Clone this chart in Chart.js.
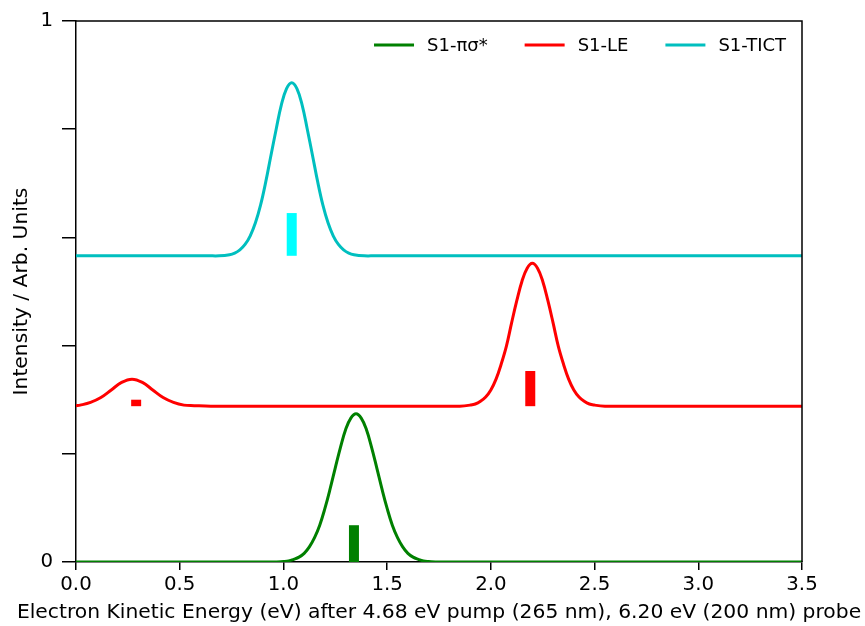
<!DOCTYPE html>
<html>
<head>
<meta charset="utf-8">
<script src="https://cdn.jsdelivr.net/npm/chart.js@4/dist/chart.umd.min.js"></script>
<style>
  html, body { margin: 0; padding: 0; background: #fff; }
  #wrap { width: 865px; height: 626px; }
</style>
</head>
<body>
<div id="wrap"><canvas id="c" width="865" height="626"></canvas></div>
<script>
// Spectra (eKE in eV, intensity in arb. units)
const greenX = [0, 0.95, 1.0, 1.025, 1.05, 1.075, 1.1, 1.125, 1.15, 1.175, 1.2, 1.225, 1.25, 1.275, 1.3, 1.325, 1.35,
  1.375, 1.4, 1.425, 1.45, 1.475, 1.5, 1.525, 1.55, 1.575, 1.6, 1.625, 1.65, 1.675, 1.7, 1.75, 3.5];
const greenY = [0, 0, 0.001, 0.002, 0.005, 0.009, 0.016, 0.028, 0.045, 0.068, 0.099, 0.135, 0.174, 0.212, 0.245, 0.266, 0.274,
  0.266, 0.245, 0.212, 0.174, 0.135, 0.099, 0.068, 0.045, 0.028, 0.016, 0.009, 0.005, 0.002, 0.001, 0, 0];

const redX = [0, 0.02, 0.07, 0.12, 0.17, 0.22, 0.27, 0.32, 0.37, 0.42, 0.47, 0.52, 0.57, 0.65,
  1.8, 1.85, 1.9, 1.925, 1.95, 1.975, 2.0, 2.025, 2.05, 2.075, 2.1, 2.125, 2.15, 2.175, 2.2,
  2.225, 2.25, 2.275, 2.3, 2.325, 2.35, 2.375, 2.4, 2.425, 2.45, 2.475, 2.5, 2.55, 2.6, 3.5];
const redY = [0.289, 0.290, 0.295, 0.304, 0.318, 0.332, 0.338, 0.332, 0.318, 0.304, 0.295, 0.290, 0.289, 0.288,
  0.288, 0.288, 0.290, 0.292, 0.297, 0.305, 0.318, 0.338, 0.366, 0.399, 0.442, 0.483, 0.519, 0.543, 0.552,
  0.543, 0.519, 0.483, 0.442, 0.399, 0.366, 0.338, 0.318, 0.305, 0.297, 0.292, 0.290, 0.288, 0.288, 0.288];

const cyanX = [0, 0.64, 0.69, 0.74, 0.765, 0.79, 0.815, 0.84, 0.865, 0.89, 0.915, 0.94, 0.965, 0.99, 1.015, 1.04,
  1.065, 1.09, 1.115, 1.14, 1.165, 1.19, 1.215, 1.24, 1.265, 1.29, 1.315, 1.34, 1.39, 1.44, 3.5];
const cyanY = [0.566, 0.566, 0.566, 0.568, 0.571, 0.577, 0.587, 0.603, 0.627, 0.660, 0.703, 0.752, 0.800, 0.845, 0.875, 0.886,
  0.875, 0.845, 0.800, 0.752, 0.703, 0.660, 0.627, 0.603, 0.587, 0.577, 0.571, 0.568, 0.566, 0.566, 0.566];

const seriesLabels = ['S1-πσ*', 'S1-LE', 'S1-TICT'];

// stick positions (eV), bottom and top of each stick
const stickX = [1.34, 0.29, 2.19, 1.04];
const stickBase = [0, 0.288, 0.288, 0.566];
const stickTop = [0.068, 0.300, 0.353, 0.645];

const xTicks = [0, 0.5, 1.0, 1.5, 2.0, 2.5, 3.0, 3.5];
const xTitle = 'Electron Kinetic Energy (eV) after 4.68 eV pump (265 nm), 6.20 eV (200 nm) probe';
const yTitle = 'Intensity / Arb. Units';

const FONT = 'DejaVu Sans';
const zip = (xs, ys) => xs.map((x, i) => ({ x, y: ys[i] }));

const curveColors = ['#008000', '#ff0000', '#00bfbf'];
const stickColors = ['#008000', '#ff0000', '#ff0000', '#00ffff'];

const curves = [[greenX, greenY], [redX, redY], [cyanX, cyanY]].map(([xs, ys], i) => ({
  label: seriesLabels[i],
  data: zip(xs, ys),
  borderColor: curveColors[i],
  borderWidth: 3,
  pointRadius: 0,
  tension: 0.4,
  fill: false,
  order: 2
}));

const sticks = stickX.map((x, i) => ({
  label: 'stick' + i,
  data: [{ x, y: stickBase[i] }, { x, y: stickTop[i] }],
  borderColor: stickColors[i],
  borderWidth: 10,
  borderCapStyle: 'butt',
  pointRadius: 0,
  fill: false,
  order: 1
}));

// top/right spines, x title (wider than the axes) and legend inside the axes
const framePlugin = {
  id: 'frame',
  afterDraw(chart) {
    const { ctx, chartArea: a } = chart;
    ctx.save();
    ctx.strokeStyle = '#000';
    ctx.lineWidth = 1.5;
    ctx.beginPath();
    ctx.moveTo(a.left, a.top);
    ctx.lineTo(a.right, a.top);
    ctx.lineTo(a.right, a.bottom);
    ctx.stroke();

    // x axis title
    ctx.font = '20.3px "' + FONT + '"';
    ctx.fillStyle = '#000';
    ctx.textAlign = 'center';
    ctx.textBaseline = 'middle';
    ctx.fillText(xTitle, (a.left + a.right) / 2, chart.height - 13);

    // legend, right-aligned
    ctx.font = '18px "' + FONT + '"';
    ctx.textAlign = 'left';
    const handle = 40, gapText = 13, gapItem = 37;
    const widths = seriesLabels.map(t => ctx.measureText(t).width);
    let total = 0;
    widths.forEach((w, i) => { total += handle + gapText + w + (i < widths.length - 1 ? gapItem : 0); });
    let x = a.right - 16 - total;
    const y = a.top + 24;
    seriesLabels.forEach((t, i) => {
      ctx.strokeStyle = curveColors[i];
      ctx.lineWidth = 3;
      ctx.beginPath();
      ctx.moveTo(x, y);
      ctx.lineTo(x + handle, y);
      ctx.stroke();
      ctx.fillStyle = '#000';
      ctx.fillText(t, x + handle + gapText, y + 1);
      x += handle + gapText + widths[i] + gapItem;
    });
    ctx.restore();
  }
};

new Chart(document.getElementById('c'), {
  type: 'line',
  data: { datasets: [...curves, ...sticks] },
  options: {
    responsive: false,
    animation: false,
    layout: { padding: { top: 21, right: 63, left: 0, bottom: 0 } },
    plugins: { legend: { display: false }, tooltip: { enabled: false } },
    scales: {
      x: {
        type: 'linear',
        min: 0, max: 3.5,
        afterBuildTicks: s => { s.ticks = xTicks.map(v => ({ value: v })); },
        afterFit: s => { s.height = 64; },
        ticks: {
          color: '#000',
          padding: 3,
          maxRotation: 0,
          font: { family: FONT, size: 19.8 },
          callback: v => Number(v).toFixed(1)
        },
        grid: { drawOnChartArea: false, drawTicks: true, tickLength: 8, color: '#000', lineWidth: 1.5 },
        border: { display: true, color: '#000', width: 1.5 }
      },
      y: {
        min: 0, max: 1,
        afterFit: s => { s.width = 76; },
        ticks: {
          stepSize: 0.2,
          color: '#000',
          padding: 9,
          font: { family: FONT, size: 19.8 },
          callback: v => (Math.abs(v) < 1e-9 ? '0' : Math.abs(v - 1) < 1e-9 ? '1' : '')
        },
        grid: { drawOnChartArea: false, drawTicks: true, tickLength: 14, color: '#000', lineWidth: 1.5 },
        border: { display: true, color: '#000', width: 1.5 },
        title: {
          display: true,
          text: yTitle,
          color: '#000',
          font: { family: FONT, size: 20.3 },
          padding: { top: 10, bottom: 0 }
        }
      }
    }
  },
  plugins: [framePlugin]
});
</script>
</body>
</html>
